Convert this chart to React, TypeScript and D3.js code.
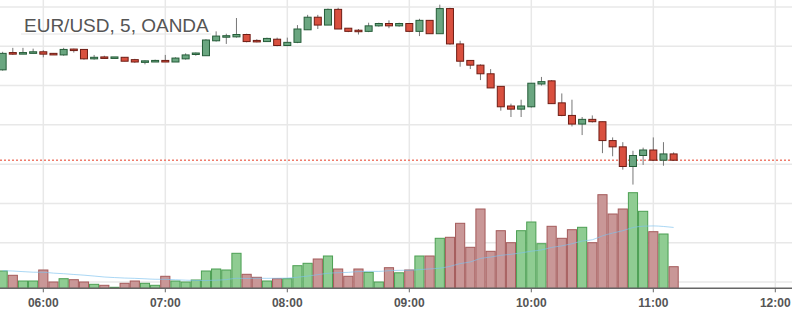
import React from "react";
import * as d3 from "d3";

const TITLE = "EUR/USD, 5, OANDA";
const START_TIME = "05:40";
const BAR_MINUTES = 5;
const MA_PERIOD = 20;

const opens = [1.08270,1.08292,1.08290,1.08291,1.08293,1.08291,1.08289,1.08296,1.08296,1.08284,1.08286,1.08285,1.08286,1.08283,1.08280,1.08280,1.08282,1.08280,1.08284,1.08290,1.08288,1.08307,1.08312,1.08312,1.08315,1.08307,1.08306,1.08309,1.08301,1.08305,1.08321,1.08337,1.08327,1.08347,1.08323,1.08320,1.08319,1.08326,1.08329,1.08326,1.08329,1.08319,1.08333,1.08316,1.08348,1.08303,1.08282,1.08276,1.08265,1.08249,1.08224,1.08220,1.08223,1.08252,1.08256,1.08228,1.08212,1.08201,1.08207,1.08204,1.08180,1.08172,1.08147,1.08161,1.08168,1.08155,1.08163];
const highs = [1.08293,1.08298,1.08298,1.08297,1.08295,1.08291,1.08298,1.08297,1.08296,1.08289,1.08288,1.08286,1.08286,1.08284,1.08282,1.08283,1.08289,1.08286,1.08291,1.08292,1.08309,1.08319,1.08316,1.08336,1.08316,1.08309,1.08311,1.08311,1.08311,1.08327,1.08340,1.08340,1.08348,1.08349,1.08323,1.08322,1.08330,1.08330,1.08333,1.08330,1.08329,1.08335,1.08333,1.08353,1.08349,1.08307,1.08282,1.08277,1.08271,1.08249,1.08227,1.08232,1.08253,1.08261,1.08257,1.08240,1.08232,1.08210,1.08212,1.08204,1.08184,1.08178,1.08167,1.08171,1.08184,1.08178,1.08165];
const lows = [1.08269,1.08289,1.08290,1.08291,1.08286,1.08289,1.08288,1.08292,1.08283,1.08283,1.08284,1.08285,1.08281,1.08279,1.08277,1.08280,1.08280,1.08280,1.08283,1.08288,1.08288,1.08306,1.08303,1.08311,1.08305,1.08305,1.08306,1.08300,1.08300,1.08304,1.08321,1.08322,1.08327,1.08322,1.08318,1.08315,1.08318,1.08325,1.08323,1.08325,1.08318,1.08313,1.08316,1.08316,1.08302,1.08274,1.08271,1.08257,1.08247,1.08218,1.08210,1.08210,1.08222,1.08250,1.08227,1.08211,1.08198,1.08187,1.08203,1.08164,1.08160,1.08143,1.08124,1.08149,1.08154,1.08148,1.08154];
const closes = [1.08291,1.08290,1.08292,1.08293,1.08290,1.08289,1.08296,1.08295,1.08284,1.08286,1.08285,1.08286,1.08281,1.08280,1.08281,1.08282,1.08280,1.08285,1.08289,1.08291,1.08308,1.08313,1.08313,1.08315,1.08306,1.08306,1.08310,1.08301,1.08305,1.08322,1.08337,1.08327,1.08347,1.08322,1.08319,1.08319,1.08326,1.08329,1.08326,1.08329,1.08319,1.08333,1.08316,1.08348,1.08303,1.08281,1.08276,1.08265,1.08247,1.08223,1.08220,1.08224,1.08253,1.08255,1.08227,1.08212,1.08201,1.08207,1.08204,1.08180,1.08172,1.08147,1.08161,1.08168,1.08155,1.08163,1.08155];
const volumes = [173,130,73,73,183,63,96,86,63,40,30,10,50,73,50,30,120,73,63,83,173,193,183,350,140,110,73,96,96,226,250,293,323,193,120,193,160,63,206,155,183,323,323,500,510,650,410,793,370,576,456,576,663,446,620,500,586,610,456,936,743,793,956,770,566,543,216];
// volumes of the 19 bars before the first visible one (for the moving average)
const priorVolumes = [190,200,185,204,230,210,240,200,220,218,120,150,130,140,125,128,160,150,147];
const axisTicks = ["06:00","07:00","08:00","09:00","10:00","11:00","12:00"];

const W = 792;
const H = 309;
const AXIS_Y = 288.3;

export default function App() {
  const parse = d3.timeParse("%H:%M");
  const start = parse(START_TIME) as Date;
  const times = opens.map((_, i) => d3.timeMinute.offset(start, BAR_MINUTES * i));
  const tickDates = axisTicks.map((t) => parse(t) as Date);

  const x = d3.scaleTime().domain([tickDates[0], tickDates[tickDates.length - 1]]).range([43.3, 775.3]);
  const y = d3.scaleLinear().domain([1.08, 1.0835]).range([282, 7]);
  const yv = d3.scaleLinear().domain([0, 1000]).range([AXIS_Y, 188.3]);

  const barStep = x(times[1]) - x(times[0]);
  const bodyW = 7;

  const gridY = d3.range(0, 8).map((k) => 1.08 + k * 0.0005);

  const allVol = [...priorVolumes, ...volumes];
  const ma = volumes.map((_, i) => {
    const j = i + priorVolumes.length;
    return d3.mean(allVol.slice(j - MA_PERIOD + 1, j + 1)) as number;
  });
  const maLine = d3
    .line<number>()
    .x((_, i) => x(times[i]))
    .y((d) => yv(d))
    .curve(d3.curveMonotoneX);

  const lastClose = closes[closes.length - 1];

  return (
    <svg
      width={W}
      height={H}
      style={{ position: "absolute", left: 0, top: 0, background: "#fff" }}
      fontFamily="'Liberation Sans', Arial, sans-serif"
    >
      {/* grid */}
      {gridY.map((p, k) => (
        <line key={"gy" + k} x1={0} x2={W} y1={y(p)} y2={y(p)} stroke="#e8e8e8" strokeWidth={1.5} />
      ))}
      {tickDates.map((d, k) => (
        <line key={"gx" + k} x1={x(d)} x2={x(d)} y1={0} y2={AXIS_Y} stroke="#e8e8e8" strokeWidth={1.5} />
      ))}

      {/* title */}
      <line x1={21} x2={211} y1={34} y2={34} stroke="#e4e4e4" strokeWidth={1} />
      <text x={24} y={32} fontSize={19} fill="#555">{TITLE}</text>

      {/* volume */}
      {volumes.map((v, i) => {
        const up = closes[i] >= opens[i];
        const cx = x(times[i]);
        return (
          <rect
            key={"v" + i}
            x={cx - barStep / 2 + 0.5}
            y={yv(v)}
            width={barStep - 1}
            height={Math.max(0.5, yv(0) - yv(v))}
            fill={up ? "#8fcc92" : "#c99797"}
            stroke={up ? "#4b9e52" : "#a45a5a"}
            strokeWidth={1}
          />
        );
      })}
      <path d={maLine(ma) || ""} fill="none" stroke="#7cc2ee" strokeOpacity={0.65} strokeWidth={1} />

      {/* last price line */}
      <line x1={0} x2={W} y1={y(lastClose)} y2={y(lastClose)} stroke="#ee7d6d" strokeWidth={1.5} strokeDasharray="2 2" />

      {/* candles */}
      {opens.map((o, i) => {
        const c = closes[i];
        const up = c >= o;
        const cx = x(times[i]);
        const top = y(Math.max(o, c));
        const bot = y(Math.min(o, c));
        const h = Math.max(1.5, bot - top);
        return (
          <g key={"c" + i}>
            <line x1={cx} x2={cx} y1={y(highs[i])} y2={y(lows[i])} stroke="#777" strokeWidth={1} />
            <rect
              x={cx - bodyW / 2}
              y={top - (h - (bot - top)) / 2}
              width={bodyW}
              height={h}
              fill={up ? "#6aa680" : "#d9503f"}
              stroke={up ? "#255c38" : "#6e1c14"}
              strokeWidth={1}
            />
          </g>
        );
      })}

      {/* time axis */}
      <line x1={0} x2={W} y1={AXIS_Y} y2={AXIS_Y} stroke="#666" strokeWidth={1.5} />
      {tickDates.map((d, k) => (
        <g key={"t" + k}>
          <line x1={x(d)} x2={x(d)} y1={AXIS_Y} y2={AXIS_Y + 4} stroke="#666" strokeWidth={1} />
          <text x={x(d)} y={306.5} fontSize={12} fontWeight="bold" fill="#555" textAnchor="middle">
            {d3.timeFormat("%H:%M")(d)}
          </text>
        </g>
      ))}
    </svg>
  );
}
